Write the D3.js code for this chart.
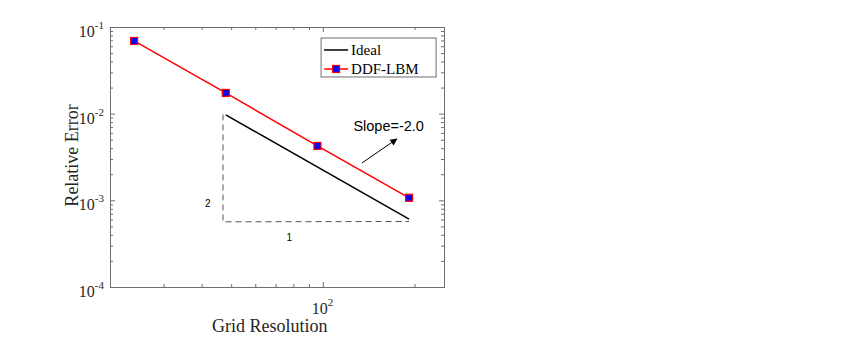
<!DOCTYPE html>
<html>
<head>
<meta charset="utf-8">
<script src="https://cdn.jsdelivr.net/npm/d3@7"></script>
<style>
  body { margin: 0; background: #fff; }
  svg { display: block; }
  .serif { font-family: "Liberation Serif", "Times New Roman", serif; }
  .sans { font-family: "Liberation Sans", Arial, sans-serif; }
</style>
</head>
<body>
<div id="chart"></div>
<script>
// data
const gridRes = [24, 48, 96, 192];
const relError = [0.069, 0.01735, 0.00424, 0.00107];
const idealRes = [48, 192];
const idealErr = [0.0097, 0.000606];
const triangleRes = [47, 47, 192];
const triangleErr = [0.0098, 0.000565, 0.00057];
const xMajorTicks = [100];
const xMinorTicks = [20, 30, 40, 50, 60, 70, 80, 90, 200];
const yMajorTicks = [1e-4, 1e-3, 1e-2, 1e-1];
const yMajorLabels = ['-4', '-3', '-2', '-1'];
const seriesNames = ['Ideal', 'DDF-LBM'];

const width = 852, height = 358;
const margin = { top: 27, right: 408, bottom: 71, left: 110 };
const innerWidth = width - margin.left - margin.right;
const innerHeight = height - margin.top - margin.bottom;

const svg = d3.select('#chart').append('svg')
  .attr('width', width).attr('height', height);

const x = d3.scaleLog().domain([20, 250]).range([0, innerWidth]);
const y = d3.scaleLog().domain([1e-4, 1e-1]).range([innerHeight, 0]);

const yMinorTicks = [];
yMajorTicks.slice(0, -1).forEach(base => {
  for (let k = 2; k <= 9; k++) yMinorTicks.push(base * k);
});

const g = svg.append('g').attr('transform', `translate(${margin.left},${margin.top})`);
const axisColor = '#6e6e6e';

// box axes, ticks pointing inward
function styleAxis(sel) {
  sel.select('.domain').attr('stroke', axisColor);
  sel.selectAll('.tick line').attr('stroke', axisColor);
  sel.selectAll('.tick text').remove();
}

g.append('g').attr('transform', `translate(0,${innerHeight})`)
  .call(d3.axisBottom(x).tickValues(xMajorTicks).tickSize(-5).tickSizeOuter(0)).call(styleAxis);
g.append('g').attr('transform', `translate(0,${innerHeight})`)
  .call(d3.axisBottom(x).tickValues(xMinorTicks).tickSize(-3).tickSizeOuter(0)).call(styleAxis);
g.append('g')
  .call(d3.axisTop(x).tickValues(xMajorTicks).tickSize(-5).tickSizeOuter(0)).call(styleAxis);
g.append('g')
  .call(d3.axisTop(x).tickValues(xMinorTicks).tickSize(-3).tickSizeOuter(0)).call(styleAxis);
g.append('g')
  .call(d3.axisLeft(y).tickValues(yMajorTicks).tickSize(-5).tickSizeOuter(0)).call(styleAxis);
g.append('g')
  .call(d3.axisLeft(y).tickValues(yMinorTicks).tickSize(-3).tickSizeOuter(0)).call(styleAxis);
g.append('g').attr('transform', `translate(${innerWidth},0)`)
  .call(d3.axisRight(y).tickValues(yMajorTicks).tickSize(-5).tickSizeOuter(0)).call(styleAxis);
g.append('g').attr('transform', `translate(${innerWidth},0)`)
  .call(d3.axisRight(y).tickValues(yMinorTicks).tickSize(-3).tickSizeOuter(0)).call(styleAxis);

// tick labels with superscript exponents
yMajorTicks.forEach((v, i) => {
  const t = g.append('text').attr('class', 'serif')
    .attr('x', -6).attr('y', y(v) + 10)
    .attr('text-anchor', 'end').attr('font-size', 16).attr('fill', '#262626');
  t.append('tspan').text('10');
  t.append('tspan').attr('dy', -8).attr('font-size', 11).text(yMajorLabels[i]);
});
xMajorTicks.forEach(v => {
  const t = g.append('text').attr('class', 'serif')
    .attr('x', x(v) - 11).attr('y', innerHeight + 27)
    .attr('font-size', 16).attr('fill', '#262626');
  t.append('tspan').text('10');
  t.append('tspan').attr('dy', -8).attr('font-size', 11).text('2');
});

// axis titles
svg.append('text').attr('class', 'serif')
  .attr('x', margin.left + x(100) - 53).attr('y', 332)
  .attr('text-anchor', 'middle').attr('font-size', 18).attr('fill', '#262626')
  .text('Grid Resolution');
svg.append('text').attr('class', 'serif')
  .attr('transform', `translate(78,${margin.top + y(0.0033)}) rotate(-90)`)
  .attr('text-anchor', 'middle').attr('font-size', 18).attr('fill', '#262626')
  .text('Relative Error');

// slope triangle
const line = d3.line().x(d => x(d[0])).y(d => y(d[1]));
g.append('path')
  .attr('d', line(triangleRes.map((r, i) => [r, triangleErr[i]])))
  .attr('fill', 'none').attr('stroke', '#555').attr('stroke-width', 1)
  .attr('stroke-dasharray', '6,4');
g.append('text').attr('class', 'sans')
  .attr('x', x(41)).attr('y', y(0.00084))
  .attr('font-size', 10).attr('fill', '#000').text('2');
g.append('text').attr('class', 'sans')
  .attr('x', x(76)).attr('y', y(0.00034))
  .attr('font-size', 10).attr('fill', '#000').text('1');

// ideal line
g.append('path')
  .attr('d', line(idealRes.map((r, i) => [r, idealErr[i]])))
  .attr('fill', 'none').attr('stroke', '#000').attr('stroke-width', 1.5);

// DDF-LBM series
g.append('path')
  .attr('d', line(gridRes.map((r, i) => [r, relError[i]])))
  .attr('fill', 'none').attr('stroke', '#ff0000').attr('stroke-width', 1.5);
g.selectAll('rect.marker')
  .data(gridRes.map((r, i) => [r, relError[i]]))
  .join('rect')
  .attr('class', 'marker')
  .attr('x', d => x(d[0]) - 3.5).attr('y', d => y(d[1]) - 3.5)
  .attr('width', 7).attr('height', 7)
  .attr('fill', '#0000ff').attr('stroke', '#ff0000').attr('stroke-width', 1.2);

// slope annotation with arrow
svg.append('defs').append('marker')
  .attr('id', 'arrow').attr('viewBox', '0 0 10 10')
  .attr('refX', 9).attr('refY', 5)
  .attr('markerWidth', 9).attr('markerHeight', 7)
  .attr('orient', 'auto')
  .append('path').attr('d', 'M0,0 L10,5 L0,10 Z').attr('fill', '#000');
g.append('line')
  .attr('x1', x(134.5)).attr('y1', y(0.0027))
  .attr('x2', x(175)).attr('y2', y(0.0051))
  .attr('stroke', '#000').attr('stroke-width', 1)
  .attr('marker-end', 'url(#arrow)');
g.append('text').attr('class', 'sans')
  .attr('x', x(126)).attr('y', y(0.0063))
  .attr('font-size', 14.5).attr('fill', '#000').text('Slope=-2.0');

// legend
const legend = g.append('g').attr('transform', `translate(${x(98.7)},${y(0.0747)})`);
legend.append('rect')
  .attr('width', 115).attr('height', 39)
  .attr('fill', '#fff').attr('stroke', axisColor).attr('stroke-width', 1);
seriesNames.forEach((name, i) => {
  const ly = 12 + i * 19;
  legend.append('line')
    .attr('x1', 3).attr('x2', 27).attr('y1', ly).attr('y2', ly)
    .attr('stroke', i === 0 ? '#000' : '#ff0000').attr('stroke-width', 1.5);
  if (i === 1) {
    legend.append('rect')
      .attr('x', 11.5).attr('y', ly - 3.5).attr('width', 7).attr('height', 7)
      .attr('fill', '#0000ff').attr('stroke', '#ff0000').attr('stroke-width', 1.2);
  }
  legend.append('text').attr('class', 'serif')
    .attr('x', 30).attr('y', ly + 5)
    .attr('font-size', 15).attr('fill', '#000').text(name);
});
</script>
</body>
</html>
